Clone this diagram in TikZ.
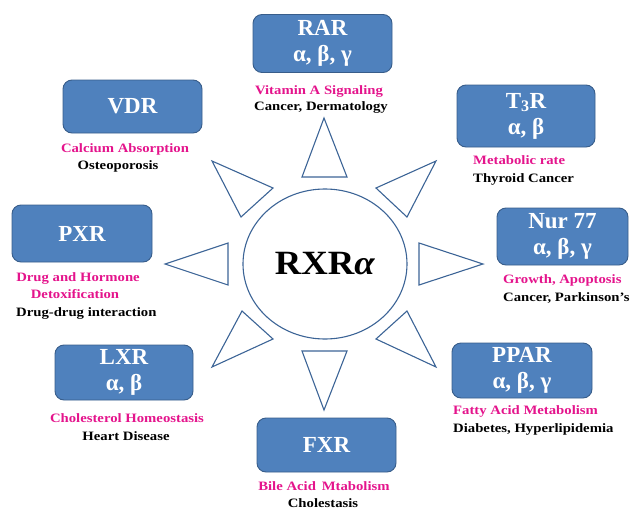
\documentclass[tikz,border=0pt]{standalone}
\usepackage{fontspec}
\usetikzlibrary{shapes.geometric}
\setmainfont{Liberation Serif}
\newfontfamily\lblfont[FakeStretch=1.15]{Liberation Serif}
\definecolor{boxfill}{RGB}{79,129,189}
\definecolor{boxline}{RGB}{56,93,138}
\definecolor{pinktext}{RGB}{228,20,140}
\definecolor{triline}{RGB}{60,100,150}
\tikzset{
  rbox/.style={draw=boxline, line width=0.9pt, fill=boxfill, rounded corners=9pt,
    text=white, font=\bfseries\fontsize{23}{26}\selectfont, align=center, inner sep=0pt},
  pinklbl/.style={text=pinktext, font=\lblfont\bfseries\fontsize{12.8}{14}\selectfont, inner sep=0pt},
  blacklbl/.style={text=black, font=\lblfont\bfseries\fontsize{12.8}{14}\selectfont, inner sep=0pt},
  ray/.style={draw=triline, line width=1.1pt, line join=miter},
}
\begin{document}
\begin{tikzpicture}[x=1pt,y=-1pt]
\useasboundingbox (0,0) rectangle (630,509);
% central element
\node[draw=triline, line width=1.1pt, ellipse, minimum width=164pt, minimum height=150pt, inner sep=0pt] (rxr) at (325,264) {};
\node[font=\bfseries\fontsize{34}{36}\selectfont, inner sep=0pt] (rxrtxt) at (325,264) {\scalebox{1.08}[1]{RXR\textit{α}}};
% rays
\draw[ray] (324,118) -- (302,177) -- (347,177) -- cycle;
\draw[ray] (324,410) -- (302,351) -- (347,351) -- cycle;
\draw[ray] (165,264) -- (228,243) -- (228,285) -- cycle;
\draw[ray] (483,264) -- (419,243) -- (419,285) -- cycle;
\draw[ray] (212,161) -- (273,188) -- (241,217) -- cycle;
\draw[ray] (436,161) -- (376,188) -- (407,217) -- cycle;
\draw[ray] (212,367) -- (273,339) -- (242,311) -- cycle;
\draw[ray] (436,367) -- (376,339) -- (407,311) -- cycle;
% receptor boxes
\node[rbox, minimum width=139pt, minimum height=58pt] (rar) at (322.5,43.5) {RAR\\α, β, γ};
\node[rbox, minimum width=138pt, minimum height=62pt] (t3r) at (526,116) {T\textsubscript{3}R\\α, β};
\node[rbox, minimum width=131pt, minimum height=57pt] (nur) at (562.5,236.5) {Nur 77\\α, β, γ};
\node[rbox, minimum width=140pt, minimum height=57pt] (pxr) at (82,233.5) {PXR};
\node[rbox, minimum width=139pt, minimum height=53pt] (vdr) at (132.5,106.5) {VDR};
\node[rbox, minimum width=138pt, minimum height=55pt] (lxr) at (124,372.5) {LXR\\α, β};
\node[rbox, minimum width=140pt, minimum height=55pt] (ppar) at (522,370.5) {PPAR\\α, β, γ};
\node[rbox, minimum width=139pt, minimum height=54pt] (fxr) at (326.5,445) {FXR};
% labels
\node[pinklbl, anchor=base] (rarA) at (319,94) {Vitamin A Signaling};
\node[blacklbl, anchor=base] (rarB) at (321,110) {Cancer, Dermatology};
\node[pinklbl, anchor=base west] (t3rA) at (473,164) {Metabolic rate};
\node[blacklbl, anchor=base west] (t3rB) at (473,182) {Thyroid Cancer};
\node[pinklbl, anchor=base west] (nurA) at (503,283) {Growth, Apoptosis};
\node[blacklbl, anchor=base west] (nurB) at (503,301) {Cancer, Parkinson’s};
\node[pinklbl, anchor=base] (pxrA) at (78,281) {Drug and Hormone};
\node[pinklbl, anchor=base] (pxrB) at (75,298) {Detoxification};
\node[blacklbl, anchor=base west] (pxrC) at (16,316) {Drug-drug interaction};
\node[pinklbl, anchor=base] (vdrA) at (125,152) {Calcium Absorption};
\node[blacklbl, anchor=base] (vdrB) at (118,169) {Osteoporosis};
\node[pinklbl, anchor=base] (lxrA) at (127,422) {Cholesterol Homeostasis};
\node[blacklbl, anchor=base] (lxrB) at (126,440) {Heart Disease};
\node[pinklbl, anchor=base west] (pparA) at (453,414) {Fatty Acid Metabolism};
\node[blacklbl, anchor=base west] (pparB) at (453,432) {Diabetes, Hyperlipidemia};
\node[pinklbl, anchor=base] (fxrA) at (324,490) {Bile Acid\, Mtabolism};
\node[blacklbl, anchor=base] (fxrB) at (323,507) {Cholestasis};
\end{tikzpicture}
\end{document}
